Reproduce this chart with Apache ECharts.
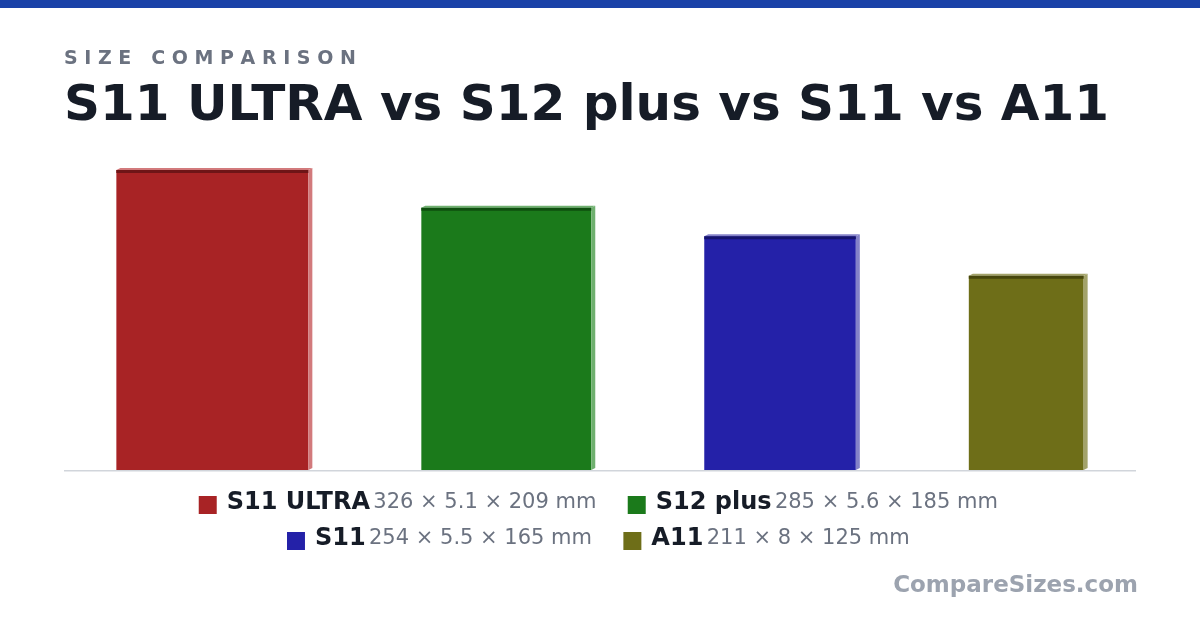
<!DOCTYPE html><html><head><meta charset="utf-8"><script src="https://cdn.jsdelivr.net/npm/echarts@6/dist/echarts.min.js"></script>
<style>body{margin:0}#c{width:1200px;height:630px}</style></head><body><div id="c"></div><script>
const names=['S11 ULTRA','S12 plus','S11','A11'];
const heights=[326,285,254,211];
const depths=[5.1,5.6,5.5,8];
const widths=[209,185,165,125];
const colors=['#a82325','#1b7a1b','#2421a8','#6e6e18'];
const tops=['#6e1517','#0f4f0f','#15136e','#46460c'];
const sides=['#d27a7c','#6fb06f','#8482c8','#a3a36a'];
const XMAX=1167, GAP=123;
const margin=(XMAX-widths.reduce((a,b)=>a+b,0)-3*GAP)/2;
let acc=margin; const starts=widths.map(w=>{const s=acc;acc+=w+GAP;return s;});
const data=names.map((n,i)=>[starts[i],starts[i]+widths[i],heights[i],i]);
const ch=echarts.init(document.getElementById('c'));
const F='"DejaVu Sans", sans-serif';
function legendRow(items,y){
  return {type:'group',left:'center',top:y,children:[{type:'text',style:{rich:{},text:''}}].concat([])};
}
const rich={n:{fontFamily:F,fontSize:24,fontWeight:'bold',fill:'#161c27'},d:{fontFamily:F,fontSize:21,fill:'#6b7280'}};
function item(i){return [{type:'rect',shape:{width:18,height:18},style:{fill:colors[i]}},{type:'text',style:{text:'{n|'+names[i]+'} {d|'+heights[i]+' × '+depths[i]+' × '+widths[i]+' mm}',rich:rich,fill:'#000'}}];}
function row(idx,y){
  const ch=[];let x=0;
  idx.forEach((i,k)=>{
    const txt=names[i]+' '+heights[i]+' × '+depths[i]+' × '+widths[i]+' mm';
    const nw=echarts.format.getTextRect?0:0;
    const [r,t]=item(i);
    r.x=x;r.y=-9;t.x=x+28;t.y=-14;
    ch.push(r,t);
    const w1=echarts.graphic? 0:0;
    x+=28+measure(names[i],24,'bold')+measure(' '+heights[i]+' × '+depths[i]+' × '+widths[i]+' mm',21,'normal')+28;
  });
  return {type:'group',x:(1200-(x-28))/2,y:y,children:ch};
}
const cv=document.createElement('canvas').getContext('2d');
function measure(s,sz,wt){cv.font=wt+' '+sz+'px "DejaVu Sans"';return cv.measureText(s).width;}
ch.setOption({
  animation:false,
  grid:{left:64,right:64,top:170,bottom:160},
  xAxis:{type:'value',min:0,max:XMAX,show:false},
  yAxis:{type:'value',min:0,max:326,show:false},
  graphic:[
    {type:'rect',shape:{x:0,y:0,width:1200,height:8},style:{fill:'#1a42a8'}},
    {type:'text',x:64,y:50,style:{text:'S I Z E   C O M P A R I S O N',font:'bold 19px '+F,fill:'#6b7280'}},
    {type:'text',x:64,y:82,style:{text:'S11 ULTRA vs S12 plus vs S11 vs A11',font:'bold 50px '+F,fill:'#161c27'}},
    {type:'rect',shape:{x:64,y:470,width:1072,height:1.5},style:{fill:'#d1d5db'}},
    row([0,1],505),row([2,3],541),
    {type:'text',right:62,top:575,style:{text:'CompareSizes.com',font:'bold 23px '+F,fill:'#9ca3af'}}
  ],
  series:[{type:'custom',data:data,renderItem:(p,api)=>{
    const a=api.coord([api.value(0),api.value(2)]),b=api.coord([api.value(1),0]);
    const i=api.value(3);
    return {type:'group',children:[
      {type:'rect',shape:{x:a[0],y:a[1],width:b[0]-a[0],height:b[1]-a[1]},style:{fill:colors[i]}},
      {type:'polygon',shape:{points:[[b[0],a[1]],[b[0]+4,a[1]-2],[b[0]+4,b[1]-2],[b[0],b[1]]]},style:{fill:sides[i]}},
      {type:'polygon',shape:{points:[[a[0],a[1]],[a[0]+4,a[1]-2],[b[0]+4,a[1]-2],[b[0],a[1]]]},style:{fill:sides[i]}},
      {type:'rect',shape:{x:a[0],y:a[1],width:b[0]-a[0],height:3},style:{fill:tops[i]}}
    ]};
  }}]
});
</script></body></html>
